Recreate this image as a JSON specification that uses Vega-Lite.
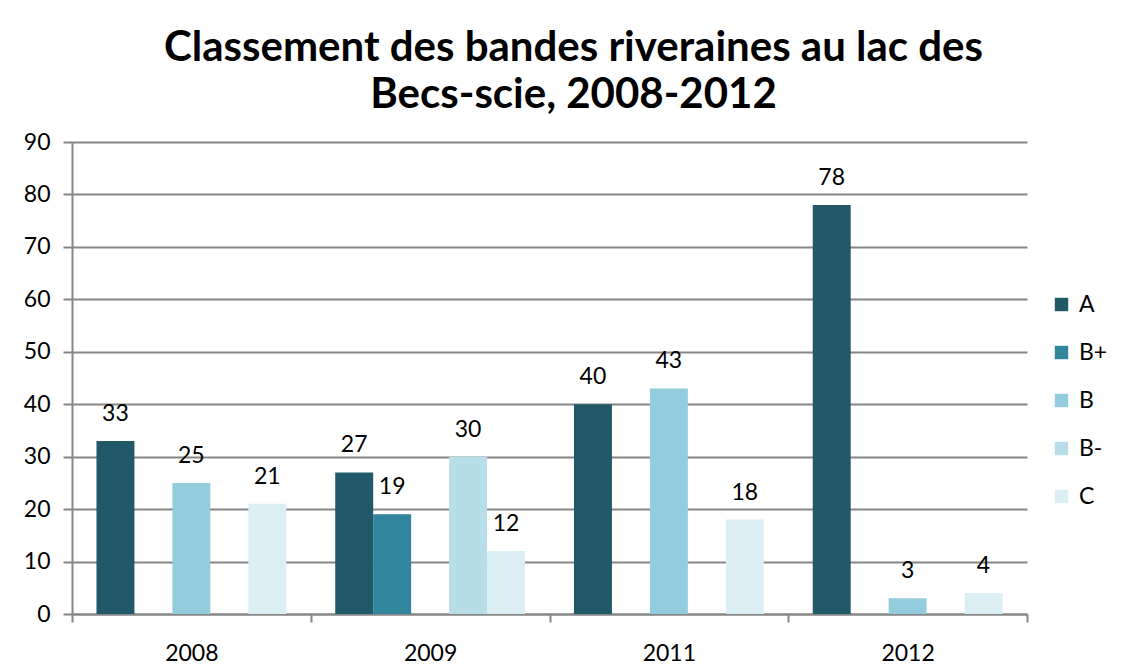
{
  "$schema": "https://vega.github.io/schema/vega-lite/v6.json",
  "autosize": "none",
  "width": 955,
  "height": 472,
  "padding": {"left": 72, "top": 142, "right": 103, "bottom": 57},
  "background": "white",
  "title": {
    "text": ["Classement des bandes riveraines au lac des", "Becs-scie, 2008-2012"],
    "font": "Lato",
    "fontSize": 42,
    "fontWeight": "bold",
    "color": "#000000",
    "lineHeight": 47,
    "anchor": "middle",
    "dx": 24,
    "offset": 14
  },
  "data": {
    "values": [
      {"annee": "2008", "classe": "A", "valeur": 33},
      {"annee": "2008", "classe": "B", "valeur": 25},
      {"annee": "2008", "classe": "C", "valeur": 21},
      {"annee": "2009", "classe": "A", "valeur": 27},
      {"annee": "2009", "classe": "B+", "valeur": 19},
      {"annee": "2009", "classe": "B-", "valeur": 30},
      {"annee": "2009", "classe": "C", "valeur": 12},
      {"annee": "2011", "classe": "A", "valeur": 40},
      {"annee": "2011", "classe": "B", "valeur": 43},
      {"annee": "2011", "classe": "C", "valeur": 18},
      {"annee": "2012", "classe": "A", "valeur": 78},
      {"annee": "2012", "classe": "B", "valeur": 3},
      {"annee": "2012", "classe": "C", "valeur": 4}
    ]
  },
  "encoding": {
    "x": {
      "field": "annee",
      "type": "nominal",
      "scale": {"paddingInner": 0, "paddingOuter": 0},
      "axis": {
        "title": null,
        "labelAngle": 0,
        "labelFont": "Lato",
        "labelFontSize": 23,
        "labelColor": "#000000",
        "labelPadding": 20,
        "tickBand": "extent",
        "tickSize": 8,
        "tickColor": "#868686",
        "tickWidth": 2,
        "domainColor": "#868686",
        "domainWidth": 2,
        "grid": false
      }
    },
    "xOffset": {
      "field": "classe",
      "type": "nominal",
      "scale": {"domain": ["A", "B+", "B", "B-", "C"], "paddingInner": 0, "paddingOuter": 0.645}
    },
    "y": {
      "field": "valeur",
      "type": "quantitative",
      "scale": {"domain": [0, 90]},
      "axis": {
        "title": null,
        "values": [0, 10, 20, 30, 40, 50, 60, 70, 80, 90],
        "labelFont": "Lato",
        "labelFontSize": 23,
        "labelColor": "#000000",
        "labelPadding": 13,
        "tickSize": 9,
        "tickColor": "#868686",
        "tickWidth": 2,
        "domainColor": "#868686",
        "domainWidth": 2,
        "gridColor": "#868686",
        "gridWidth": 2
      }
    }
  },
  "layer": [
    {
      "mark": {"type": "bar"},
      "encoding": {
        "color": {
          "field": "classe",
          "type": "nominal",
          "scale": {
            "domain": ["A", "B+", "B", "B-", "C"],
            "range": ["#215968", "#31859C", "#93CDDD", "#B7DEE8", "#DAEEF3"]
          },
          "legend": {
            "title": null,
            "orient": "none",
            "legendX": 978,
            "legendY": 151,
            "symbolType": "square",
            "symbolSize": 180,
            "symbolStrokeWidth": 0,
            "labelFont": "Lato",
            "labelFontSize": 23,
            "labelColor": "#000000",
            "rowPadding": 24,
            "labelOffset": 6
          }
        }
      }
    },
    {
      "mark": {"type": "text", "font": "Lato", "fontSize": 23, "color": "#000000", "baseline": "alphabetic", "dy": -20},
      "encoding": {
        "text": {"field": "valeur", "type": "quantitative"}
      }
    }
  ],
  "config": {
    "view": {"stroke": null}
  }
}
